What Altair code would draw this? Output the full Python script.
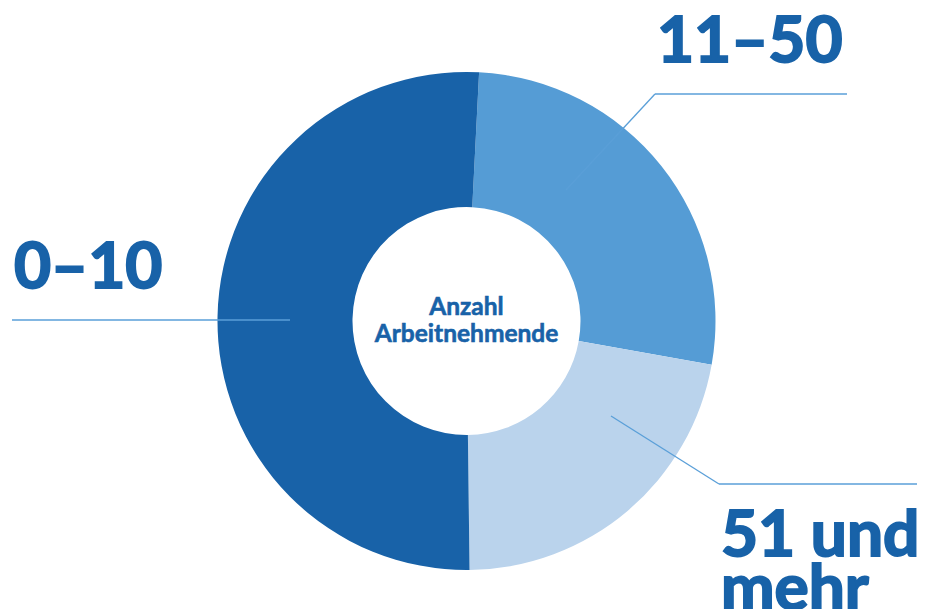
import math
import altair as alt
import pandas as pd

# ---- data ----
categories = ["11–50", "51 und mehr", "0–10"]
shares = [27, 22, 51]
colors = ["#559cd5", "#bad3ec", "#1862a8"]
label_lines = [["11–50"], ["51 und", "mehr"], ["0–10"]]
center_title = ["Anzahl", "Arbeitnehmende"]

W, H = 926, 609
CX, CY = 466.5, 321
start = math.radians(2.9)
FONT = "Lato"
TXT = "#1862a8"

df = pd.DataFrame({"cat": categories, "share": shares, "ord": list(range(len(categories)))})

donut = alt.Chart(df).mark_arc(outerRadius=249, innerRadius=114, stroke=None).encode(
    theta=alt.Theta("share:Q", stack=True, scale=alt.Scale(range=[start, start + 2 * math.pi])),
    color=alt.Color("cat:N", scale=alt.Scale(domain=categories, range=colors), legend=None),
    order=alt.Order("ord:Q"),
    x=alt.value(CX),
    y=alt.value(CY),
)

# leader lines (annotation layout, pixel positions)
seg = pd.DataFrame({
    "x": [12, 566, 655, 611, 719],
    "y": [320, 190, 94, 416, 484],
    "x2": [290, 655, 847, 719, 917],
    "y2": [320, 94, 94, 484, 484],
})
leaders = alt.Chart(seg).mark_rule(color="#5a9fd8", strokeWidth=1.3).encode(
    x=alt.X("x:Q", scale=None), y=alt.Y("y:Q", scale=None),
    x2="x2:Q", y2="y2:Q",
)

# category labels
lab = pd.DataFrame({
    "cat": categories,
    "lines": label_lines,
    "lx": [657, 721, 14],
    "ly": [62, 556, 288],
})
labels = alt.Chart(lab).mark_text(
    font=FONT, fontWeight="bold", fontSize=64, align="left", baseline="alphabetic",
    color=TXT, stroke=TXT, strokeWidth=2, lineHeight=54,
).encode(
    x=alt.X("lx:Q", scale=None), y=alt.Y("ly:Q", scale=None), text="lines",
)

ctr = pd.DataFrame({"t": center_title, "cy": [315, 342]})
center = alt.Chart(ctr).mark_text(
    font=FONT, fontWeight="bold", fontSize=24.5, align="center", baseline="alphabetic",
    color=TXT, stroke=TXT, strokeWidth=0.6,
).encode(x=alt.value(CX), y=alt.Y("cy:Q", scale=None), text="t:N")

chart = alt.layer(donut, leaders, labels, center).properties(
    width=W, height=H, autosize=alt.AutoSizeParams(type="none"), padding=0,
).configure_view(stroke=None)

chart.save("out.html", embed_options={"renderer": "svg", "actions": False})
